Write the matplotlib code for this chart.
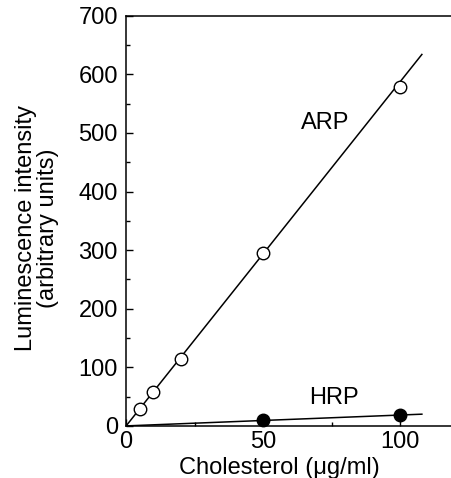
import matplotlib
matplotlib.use("Agg")
import matplotlib.pyplot as plt
from matplotlib.ticker import MultipleLocator

plt.rcParams['font.family'] = ['Liberation Sans', 'DejaVu Sans']

arp_x = [5, 10, 20, 50, 100]
arp_y = [29, 58, 114, 295, 578]
arp_fit_x = [0, 108]
arp_fit_y = [0, 634]

hrp_x = [50, 100]
hrp_y = [10, 18]
hrp_fit_x = [0, 108]
hrp_fit_y = [0, 20]

FS = 17

fig = plt.figure(figsize=(4.52, 4.78), dpi=100)
ax = fig.add_axes([0.279, 0.109, 0.721, 0.858])

ax.plot(arp_fit_x, arp_fit_y, color='black', lw=1.1, zorder=2)
ax.plot(hrp_fit_x, hrp_fit_y, color='black', lw=1.1, zorder=2)
ax.plot(arp_x, arp_y, 'o', mfc='white', mec='black', ms=9, mew=1.0, zorder=3, clip_on=False)
ax.plot(hrp_x, hrp_y, 'o', mfc='black', mec='black', ms=9, zorder=3, clip_on=False)

ax.text(72.5, 517, 'ARP', fontsize=FS, ha='center', va='center')
ax.text(76, 48, 'HRP', fontsize=FS, ha='center', va='center')

ax.set_xlim(0, 119)
ax.set_ylim(0, 700)
ax.xaxis.set_major_locator(MultipleLocator(50))
ax.xaxis.set_minor_locator(MultipleLocator(25))
ax.yaxis.set_major_locator(MultipleLocator(100))
ax.yaxis.set_minor_locator(MultipleLocator(50))
ax.tick_params(which='both', direction='in', labelsize=FS, width=1)
ax.tick_params(which='major', length=5)
ax.tick_params(axis='y', which='major', pad=6)
ax.tick_params(axis='x', which='major', pad=4)
ax.tick_params(which='minor', length=3)
ax.spines['right'].set_visible(False)
for s in ['left', 'bottom', 'top']:
    ax.spines[s].set_linewidth(1.1)

ax.set_xlabel('Cholesterol (\u03bcg/ml)', fontsize=FS, labelpad=0)
ax.xaxis.set_label_coords(0.469, -0.075)
ax.set_ylabel('Luminescence intensity\n(arbitrary units)', fontsize=FS, linespacing=1.0)
ax.yaxis.set_label_coords(-0.205, 0.483)

fig.savefig('out.png', dpi=100)
